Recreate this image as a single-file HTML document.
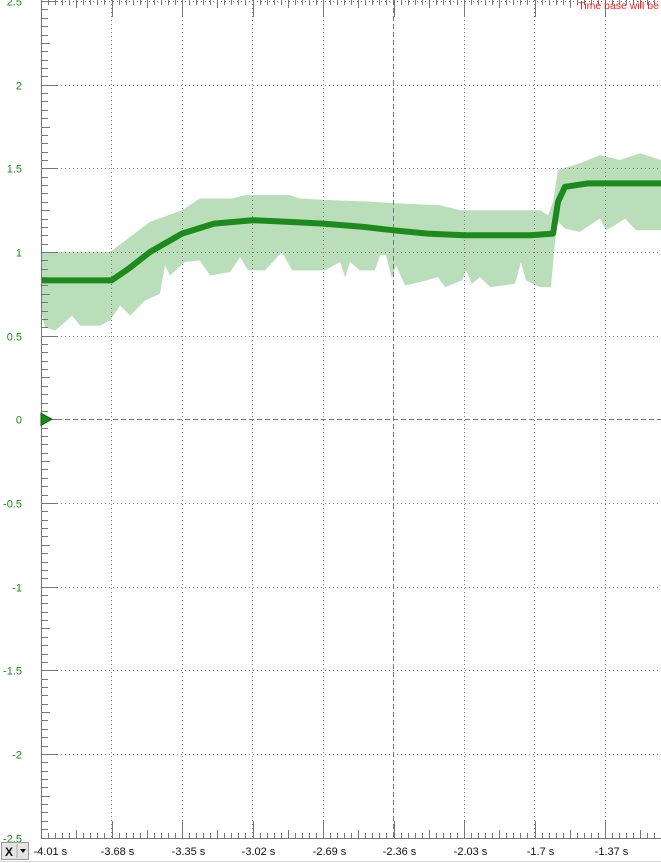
<!DOCTYPE html>
<html><head><meta charset="utf-8"><style>
html,body{margin:0;padding:0;background:#fff;}
svg{display:block;font-family:"Liberation Sans",sans-serif;}
</style></head><body>
<svg id="c" width="661" height="863" viewBox="0 0 661 863">
<rect x="0" y="0" width="661" height="863" fill="#fff"/>
<g id="env"></g>
<g id="grid"></g>
<g id="line"></g>
<g id="axes"></g>
<text x="659" y="9" text-anchor="end" font-size="10.5" fill="#ff1a1a">Time base will be</text>
<g>
<rect x="1.5" y="842.5" width="27" height="17" fill="#e4e4e4" stroke="#9a9a9a"/>
<line x1="17" y1="844" x2="17" y2="858" stroke="#aaa"/>
<text x="9" y="856" text-anchor="middle" font-size="12" font-weight="bold" fill="#111">X</text>
<polygon points="20,849 26,849 23,853" fill="#111"/>
</g>
<line x1="0" y1="861.5" x2="661" y2="861.5" stroke="#d8d8d8"/>
</svg>
<script>
const yTicks=[2.5,2,1.5,1,0.5,0,-0.5,-1,-1.5,-2,-2.5];
const yLabels=["2.5","2","1.5","1","0.5","0","-0.5","-1","-1.5","-2","-2.5"];
const xTicks=[-4.01,-3.68,-3.35,-3.02,-2.69,-2.36,-2.03,-1.7,-1.37];
const xLabels=["-4.01 s","-3.68 s","-3.35 s","-3.02 s","-2.69 s","-2.36 s","-2.03 s","-1.7 s","-1.37 s"];
const meanT=[-4.01,-3.68,-3.6,-3.5,-3.35,-3.2,-3.02,-2.85,-2.69,-2.5,-2.36,-2.2,-2.03,-1.8,-1.72,-1.613,-1.59,-1.557,-1.45,-1.3,-1.108];
const meanV=[0.83,0.83,0.9,1.0,1.11,1.17,1.19,1.18,1.17,1.15,1.13,1.11,1.1,1.1,1.1,1.11,1.3,1.39,1.41,1.41,1.41];
const upT=[-4.01,-3.687,-3.5,-3.35,-3.266,-3.116,-3.055,-2.844,-2.8,-2.657,-2.46,-2.33,-2.142,-2.049,-1.674,-1.637,-1.613,-1.59,-1.487,-1.393,-1.3,-1.206,-1.108];
const upV=[1.0,1.0,1.18,1.25,1.32,1.32,1.34,1.34,1.32,1.31,1.3,1.29,1.28,1.25,1.25,1.22,1.3,1.49,1.53,1.58,1.55,1.59,1.55];
const loT=[-4.01,-3.991,-3.944,-3.898,-3.865,-3.827,-3.734,-3.687,-3.64,-3.593,-3.523,-3.453,-3.43,-3.406,-3.336,-3.266,-3.219,-3.125,-3.078,-3.041,-2.961,-2.882,-2.835,-2.68,-2.61,-2.587,-2.563,-2.517,-2.447,-2.423,-2.395,-2.367,-2.348,-2.306,-2.236,-2.152,-2.119,-2.039,-2.021,-1.993,-1.955,-1.908,-1.791,-1.763,-1.74,-1.674,-1.623,-1.595,-1.557,-1.487,-1.393,-1.365,-1.323,-1.276,-1.225,-1.183,-1.108];
const loV=[0.65,0.55,0.53,0.58,0.62,0.56,0.56,0.59,0.68,0.62,0.71,0.75,0.92,0.86,0.94,0.95,0.86,0.88,0.97,0.89,0.89,1.0,0.89,0.89,0.94,0.85,0.94,0.89,0.89,0.98,0.98,0.84,0.92,0.8,0.82,0.85,0.79,0.83,0.89,0.81,0.85,0.79,0.81,0.94,0.83,0.79,0.79,1.19,1.14,1.12,1.2,1.13,1.16,1.2,1.13,1.13,1.13];

const NS="http://www.w3.org/2000/svg";
const X0=41,PX=70.5/0.33;
const sx=t=>X0+(t+4.01)*PX;
const sy=v=>419.3-v*167.3;
function mk(tag,attrs,parent){const e=document.createElementNS(NS,tag);for(const k in attrs)e.setAttribute(k,attrs[k]);parent.appendChild(e);return e;}
const env=document.getElementById('env'),grid=document.getElementById('grid'),line=document.getElementById('line'),axes=document.getElementById('axes');

// envelope
let d="M"+upT.map((t,i)=>sx(t).toFixed(1)+","+sy(upV[i]).toFixed(1)).join(" L");
for(let i=loT.length-1;i>=0;i--)d+=" L"+sx(loT[i]).toFixed(1)+","+sy(loV[i]).toFixed(1);
const ep=mk('path',{d:d+"Z",fill:"#badeba"},env);



// grid
yTicks.forEach((v,i)=>{
  const y=Math.round(sy(v))+0.5;
  const g=mk('line',{x1:X0,x2:661,y1:y,y2:y,stroke:"#777","stroke-dasharray":v===0?"5,3":"1,3"},grid);
  
  
  const tx=mk('text',{x:22,y:y+4,"text-anchor":"end","font-size":"11",fill:"#1a8a1a"},axes);
  tx.textContent=yLabels[i];
  
  
  mk('line',{x1:X0,x2:X0+17,y1:y,y2:y,stroke:"#777"},axes);
});
for(let k=-50;k<=50;k++){const v=k*0.05,y=Math.round(sy(v))+0.5;const len=(k%10===0)?17:(k%5===0?9:7);mk('line',{x1:X0,x2:X0+len,y1:y,y2:y,stroke:"#777"},axes);}
xTicks.forEach((t,i)=>{
  const x=Math.round(sx(t))+0.5;
  if(i>0){const g=mk('line',{x1:x,x2:x,y1:0,y2:838,stroke:"#777","stroke-dasharray":t===-2.36?"5,3":"1,3"},grid);
  
  }
  const tx=mk('text',{x:x+(i===0?-8:6),y:855,"text-anchor":i===0?"start":"middle","font-size":"11",fill:"#111"},axes);
  tx.textContent=xLabels[i];
  
  
});
for(let k=0;k<=90;k++){const x=Math.round(X0+k*7.05)+0.5;if(x>661)break;const len=(k%10===0)?17:(k%5===0?8:5);
  mk('line',{x1:x,x2:x,y1:838,y2:838-len,stroke:"#777"},axes);
  mk('line',{x1:x,x2:x,y1:0,y2:len,stroke:"#777"},axes);}
mk('line',{x1:X0+0.5,x2:X0+0.5,y1:0,y2:838,stroke:"#777"},axes);
mk('line',{x1:X0,x2:661,y1:838.5,y2:838.5,stroke:"#777"},axes);
const tri=mk('polygon',{points:`${X0},${sy(0)-6} ${X0+11},${sy(0)} ${X0},${sy(0)+6}`,fill:"#1a8a1a",stroke:"#0b5a0b"},axes);



// mean signal
const mp=mk('polyline',{points:meanT.map((t,i)=>sx(t).toFixed(1)+","+sy(meanV[i]).toFixed(1)).join(" "),fill:"none",stroke:"#1c8a1c","stroke-width":"6","stroke-linejoin":"round"},line);


</script>
</body></html>
